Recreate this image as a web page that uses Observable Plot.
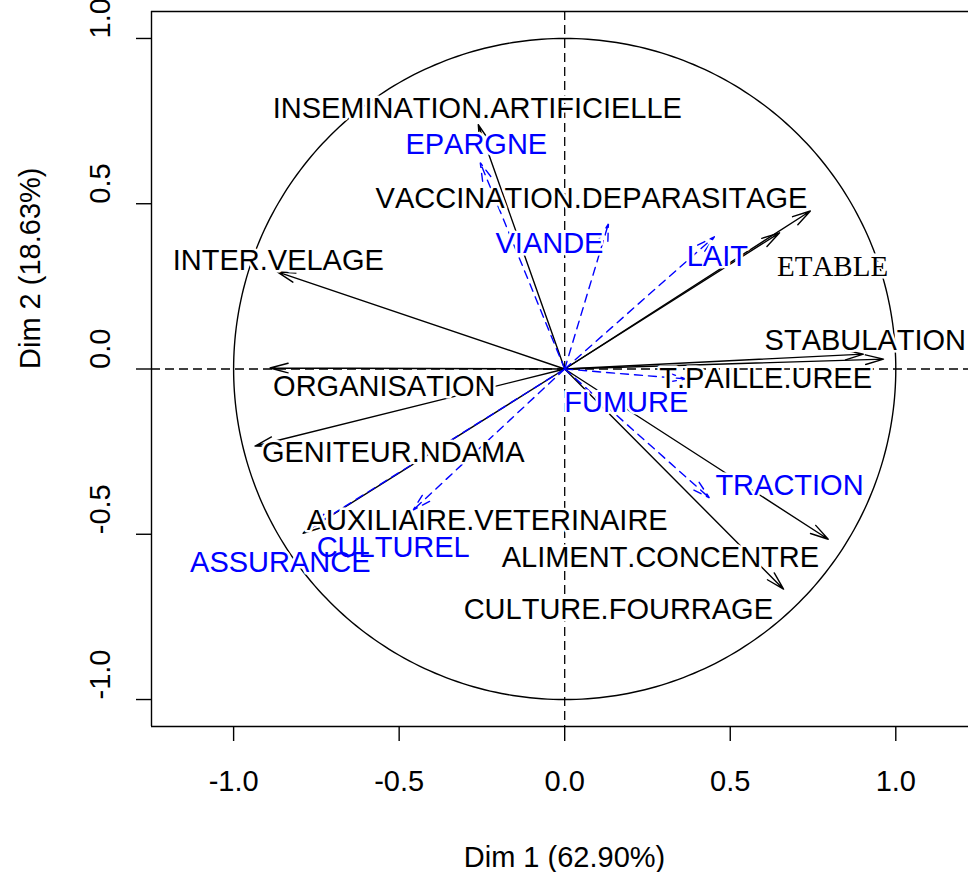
<!DOCTYPE html>
<html><head><meta charset="utf-8">
<script src="https://cdn.jsdelivr.net/npm/d3@7"></script>
<script src="https://cdn.jsdelivr.net/npm/@observablehq/plot@0.6"></script>
<style>
html,body{margin:0;padding:0;background:#fff;overflow:hidden;}
#chart{width:968px;height:872px;}
#chart svg text{font-kerning:none;}
</style></head><body><div id="chart"></div>
<script>
// Active variables (black, solid arrows)
const activeNames = ["INSEMINATION.ARTIFICIELLE","VACCINATION.DEPARASITAGE","ETABLE","INTER.VELAGE","ORGANISATION","STABULATION","T.PAILLE.UREE","GENITEUR.NDAMA","AUXILIAIRE.VETERINAIRE","ALIMENT.CONCENTRE","CULTURE.FOURRAGE"];
const activeDim1 = [-0.261, 0.742, 0.649, -0.868, -0.890, 0.963, 0.902, -0.935, -0.790, 0.796, 0.661];
const activeDim2 = [0.739, 0.478, 0.412, 0.294, 0.003, 0.030, 0.045, -0.233, -0.497, -0.515, -0.666];
const activeLabelDim1 = [-0.264, 0.081, 0.809, -0.865, -0.545, 0.908, 0.607, -0.518, -0.234, 0.289, 0.162];
const activeLabelDim2 = [0.787, 0.515, 0.309, 0.327, -0.054, 0.085, -0.030, -0.254, -0.460, -0.572, -0.727];

// Supplementary variables (blue, dashed arrows)
const suppNames = ["EPARGNE","VIANDE","LAIT","FUMURE","TRACTION","CULTUREL","ASSURANCE"];
const suppDim1 = [-0.255, 0.132, 0.452, 0.365, 0.437, -0.458, -0.763];
const suppDim2 = [0.624, 0.439, 0.400, -0.030, -0.390, -0.427, -0.478];
const suppLabelDim1 = [-0.267, -0.046, 0.461, 0.186, 0.679, -0.518, -0.859];
const suppLabelDim2 = [0.678, 0.378, 0.339, -0.103, -0.354, -0.542, -0.587];

const xTicks = [-1, -0.5, 0, 0.5, 1];
const yTicks = [-1, -0.5, 0, 0.5, 1];
const xTitle = "Dim 1 (62.90%)";
const yTitle = "Dim 2 (18.63%)";
const serifLabels = ["ETABLE"];

const active = activeNames.map((name, i) => ({name, x: activeDim1[i], y: activeDim2[i], lx: activeLabelDim1[i], ly: activeLabelDim2[i]}));
const supp = suppNames.map((name, i) => ({name, x: suppDim1[i], y: suppDim2[i], lx: suppLabelDim1[i], ly: suppLabelDim2[i]}));
const allLabels = active.concat(supp);

// unit correlation circle (geometry)
const circle = d3.range(0, 361).map(a => ({x: Math.cos(a * Math.PI / 180), y: Math.sin(a * Math.PI / 180)}));

const XMIN = -1.248, XMAX = 1.2196, YLIM = 1.0816;
const SANS = "'Liberation Sans', Arial, Helvetica, sans-serif";
const SERIF = "'Liberation Serif', 'Times New Roman', serif";
const FS = 29;
const LW = 1.4;

const plot = Plot.plot({
  width: 968, height: 872,
  marginLeft: 151, marginRight: 0, marginTop: 11, marginBottom: 146,
  x: {domain: [XMIN, XMAX]},
  y: {domain: [-YLIM, YLIM]},
  style: {fontFamily: SANS, fontSize: FS + "px", background: "white", color: "black", overflow: "visible"},
  marks: [
    // box (left, top, bottom — right side lies beyond the crop)
    Plot.ruleX([XMIN], {stroke: "black", strokeWidth: LW}),
    Plot.ruleY([-YLIM, YLIM], {stroke: "black", strokeWidth: LW}),
    // dashed reference axes
    Plot.ruleX([0], {stroke: "black", strokeWidth: 1.3, strokeDasharray: "9,5"}),
    Plot.ruleY([0], {stroke: "black", strokeWidth: 1.3, strokeDasharray: "9,5"}),
    // correlation circle
    Plot.line(circle, {x: "x", y: "y", stroke: "black", strokeWidth: LW}),
    // arrows
    Plot.arrow(active, {x1: d => 0, y1: d => 0, x2: "x", y2: "y", stroke: "black", strokeWidth: LW, headLength: 20, headAngle: 30}),
    Plot.arrow(supp, {x1: d => 0, y1: d => 0, x2: "x", y2: "y", stroke: "#0000ff", strokeWidth: LW, strokeDasharray: "8,6", headLength: 20, headAngle: 30}),
    // label halos
    Plot.text(allLabels, {x: "lx", y: "ly", text: "name", fill: "white", stroke: "white", strokeWidth: 5, fontSize: FS,
      fontFamily: d => serifLabels.includes(d.name) ? SERIF : SANS}),
    // labels
    Plot.text(active.filter(d => !serifLabels.includes(d.name)), {x: "lx", y: "ly", text: "name", fill: "black", fontSize: FS, fontFamily: SANS}),
    Plot.text(active.filter(d => serifLabels.includes(d.name)), {x: "lx", y: "ly", text: "name", fill: "black", fontSize: FS, fontFamily: SERIF}),
    Plot.text(supp, {x: "lx", y: "ly", text: "name", fill: "#0000ff", fontSize: FS, fontFamily: SANS}),
    // axes
    Plot.axisX({ticks: xTicks, tickSize: 15, tickPadding: 29, tickFormat: d => d.toFixed(1), label: null, strokeWidth: LW, fontSize: FS}),
    Plot.axisY({ticks: yTicks, tickSize: 15, tickFormat: () => "", label: null, strokeWidth: LW}),
    Plot.text(yTicks, {y: d => d, text: d => d.toFixed(1), frameAnchor: "left", rotate: -90, dx: -51, fontSize: FS, fill: "black"}),
    // axis titles
    Plot.text([xTitle], {text: d => d, frameAnchor: "bottom", dx: 4.5, dy: 140, fontSize: FS, fill: "black"}),
    Plot.text([yTitle], {text: d => d, frameAnchor: "left", rotate: -90, dx: -121, fontSize: FS, fill: "black"})
  ]
});
document.getElementById("chart").appendChild(plot);
</script></body></html>
